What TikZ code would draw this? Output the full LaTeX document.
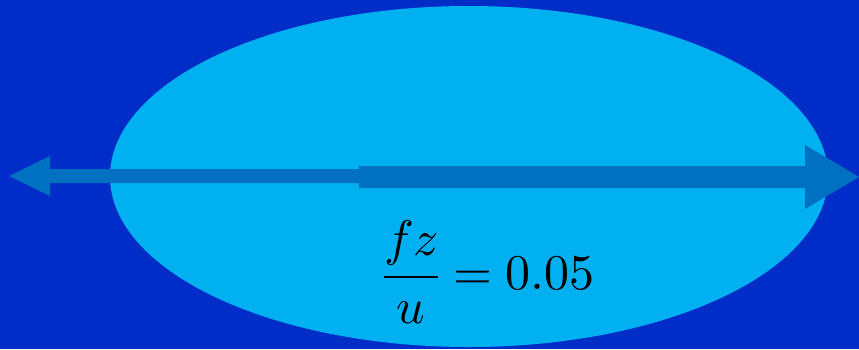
\documentclass[tikz,border=0pt]{standalone}
\usepackage{amsmath}
\usepackage{unicode-math}
\usepackage{tikz}
\definecolor{bgblue}{RGB}{0,45,200}
\definecolor{ovalblue}{RGB}{0,176,240}
\definecolor{arrowblue}{RGB}{0,112,192}
\begin{document}
\begin{tikzpicture}[x=1pt,y=-1pt]
        \useasboundingbox (0,0) rectangle (859,349);
        \fill[bgblue] (0,0) rectangle (859,349);
        \fill[ovalblue] (469,176.5) ellipse [x radius=359, y radius=170.5];
        \fill[arrowblue] (9,176)--(50,156)--(50,169)--(359,169)--(359,166)--(805,166)--(805,145)--(859,177)--(805,209)--(805,188)--(359,188)--(359,183)--(50,183)--(50,196)--cycle;
        \node[anchor=base,inner sep=0pt] (ratio) at (489,289) {\fontsize{50}{60}\selectfont$\displaystyle\frac{fz}{u}=0.05$};
      \end{tikzpicture}
\end{document}
